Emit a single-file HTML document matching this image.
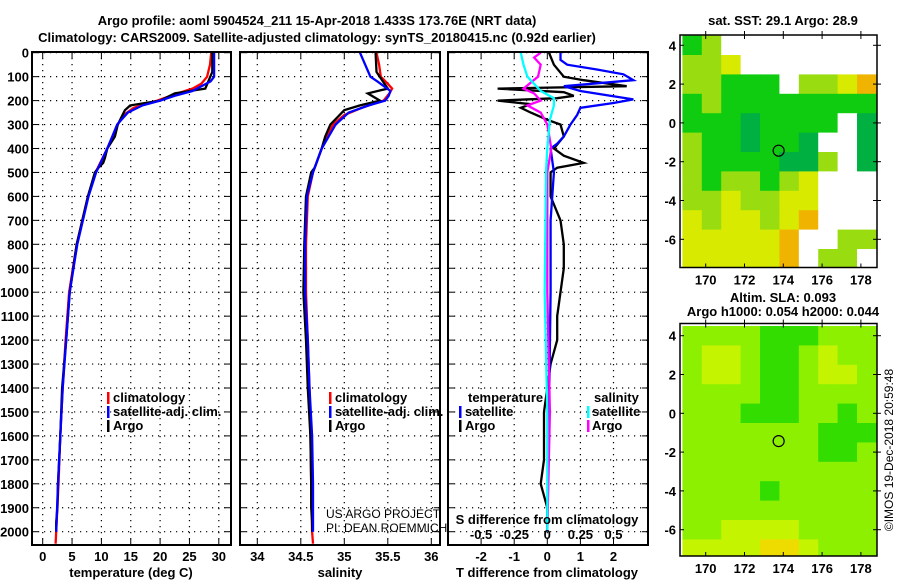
<!DOCTYPE html>
<html><head><meta charset="utf-8">
<style>
html,body{margin:0;padding:0;background:#fff;}
svg{display:block;font-family:"Liberation Sans",sans-serif;}
.b{font-weight:bold;font-size:13px;}
</style></head>
<body>
<svg id="c" width="900" height="580" viewBox="0 0 900 580" xmlns="http://www.w3.org/2000/svg">
<defs>
<clipPath id="clipA"><rect x="680" y="35" width="197" height="232"/></clipPath>
<clipPath id="clipB"><rect x="680" y="323.5" width="197" height="233"/></clipPath>
</defs>
<text class="b" x="317" y="25" text-anchor="middle">Argo profile: aoml 5904524_211 15-Apr-2018 1.433S 173.76E (NRT data)</text>
<text class="b" x="317" y="42" text-anchor="middle">Climatology: CARS2009. Satellite-adjusted climatology: synTS_20180415.nc (0.92d earlier)</text>
<text class="b" x="783" y="25" text-anchor="middle">sat. SST: 29.1 Argo: 28.9</text>
<text class="b" x="783" y="302" text-anchor="middle">Altim. SLA: 0.093</text>
<text class="b" x="783" y="316" text-anchor="middle">Argo h1000: 0.054 h2000: 0.044</text>
<g id="g"></g>
<text x="893" y="450" font-size="12" text-anchor="middle" transform="rotate(-90 893 450)">©IMOS 19-Dec-2018 20:59:48</text>
</svg>
<script>
// ---- data ----
const depthTick=[0,100,200,300,400,500,600,700,800,900,1000,1100,1200,1300,1400,1500,1600,1700,1800,1900,2000];
const tempTicks=[0,5,10,15,20,25,30];
const salTicks=[34,34.5,35,35.5,36];
const salTickLabels=["34","34.5","35","35.5","36"];
const tdTicks=[-2,-1,0,1,2];
const sdTicks=[-0.5,-0.25,0,0.25,0.5];
const sdTickLabels=["-0.5","-0.25","0","0.25","0.5"];

const argoD=[0,80,150,170,200,220,240,300,350,400,440,460,480,500,600,800,1000,1200,1400,1600,1800,1900,1960,2000];
const argoT=[28.9,28.9,27.7,22.5,20,14.9,14,12.8,12.3,11,10.6,10.3,9.5,8.9,7.7,5.8,4.6,4.0,3.3,3.0,2.6,2.5,2.3,2.3];
const argoS=[35.36,35.37,35.50,35.27,35.41,35.18,35.0,34.84,34.78,34.74,34.7,34.68,34.66,34.62,34.56,34.54,34.53,34.56,34.58,34.61,34.62,34.62,34.63,34.63];
const climD=[0,50,100,130,150,170,200,230,260,300,400,500,600,800,1000,1200,1400,1600,1800,2000,2050];
const climT=[28.7,28.5,28,27,25.5,23,19.5,15.5,13.8,12.8,11,9,7.7,5.8,4.5,3.9,3.4,3.0,2.7,2.3,2.2];
const climS=[35.37,35.40,35.42,35.50,35.55,35.52,35.45,35.2,35.0,34.87,34.74,34.64,34.58,34.56,34.56,34.58,34.6,34.61,34.62,34.63,34.64];
const satD=[0,100,120,160,180,200,220,250,300,400,500,600,800,1000,1200,1400,1600,1800,2000];
const satT=[29.2,29.2,28.6,25.5,22.5,20,17,14.5,12.7,11,9.1,7.8,5.9,4.6,4.0,3.4,3.0,2.6,2.3];
const satS=[35.18,35.30,35.38,35.53,35.51,35.47,35.28,35.05,34.9,34.74,34.64,34.57,34.55,34.55,34.58,34.6,34.63,34.64,34.64];

const dArgoTD=[0,50,100,115,140,150,165,180,190,200,215,230,250,280,300,350,400,430,460,480,500,600,700,800,900,1000,1100,1200,1300,1500,1700,1800,1900,2000];
const dArgoT=[0.05,0.2,0.5,1.1,2.4,-1.5,0.5,0.8,0.3,-1.5,-0.5,-0.8,-0.5,0,0.4,0.5,0.2,0.5,1.1,0.3,0.1,0.1,0.4,0.5,0.5,0.4,0.3,0.3,0.1,-0.1,-0.1,-0.2,0,0];
const dSatTD=[0,30,50,70,90,115,140,160,180,195,210,230,260,300,350,380,400,500,700,1000,1500,2000];
const dSatT=[0.4,0.4,0.6,1.5,2.3,2.6,0.5,1.0,1.9,2.6,2.0,1.0,0.9,0.7,0.5,0.3,0.1,0.2,0.1,0.1,0.05,0];
const dSatSD=[0,50,100,130,160,190,220,280,400,500,1000,1500,2000];
const dSatS=[-0.2,-0.18,-0.15,-0.1,-0.05,0.05,0.05,0.02,0,-0.01,-0.02,0,0];
const dArgoSD=[0,20,50,100,150,170,200,220,250,300,400,500,1000,1500,2000];
const dArgoS=[-0.05,-0.1,-0.05,-0.07,-0.18,-0.1,-0.05,-0.15,-0.05,0,0.03,0,0,0.02,0];

const latTicks=[4,2,0,-2,-4,-6];
const lonTicks=[170,172,174,176,178];
const sstGrid=["GLWWWWWWWW","LLYWWWWWWW","LLGGGWLLYO","GLGGGGGGGG","GGGDGGGGWD","LGGDGGDWWD","LGGGGDDLWD","LGLLGLYWWW","LLYLLYYWWW","YLYYLYOWWW","YYYYYOWWLL","YYYYYOWLLW"];
const slaGrid=["MMMMBBBMMM","MYYMBBMYMM","MYYMBBMYYM","MMMMBBMMMM","MMMBBBMMBM","MMMMMMMBBB","MMMMMMMBBM","MMMMMMMMMM","MMMMBMMMMM","MMMMMMMMMM","MMYYYYMMMM","YYYYOOYMMM"];
const argoLon=173.76, argoLat=-1.433;

// ---- drawing ----
const NS="http://www.w3.org/2000/svg";
const G=document.getElementById('g');
function mk(t,a,p){const e=document.createElementNS(NS,t);for(const k in a)e.setAttribute(k,a[k]);(p||G).appendChild(e);return e;}
const yD=d=>52.7+0.2395*d;
const Y0=52, Y1=545;
const xT=t=>42.7+t*5.87;
const xS=s=>257.3+(s-34)*87;
const xTD=t=>547.3+t*33.1;
const xSD=s=>547.3+s*4*33.1;

function frame(x0,x1,name){
  const g=mk('g',{});
  
  
  depthTick.forEach(d=>{mk('line',{x1:x0,x2:x1,y1:yD(d),y2:yD(d),stroke:'#000','stroke-dasharray':'1.2 4.8','stroke-width':1.2},g);
    mk('line',{x1:x0,x2:x0+6,y1:yD(d),y2:yD(d),stroke:'#000','stroke-width':1},g);
    mk('line',{x1:x1-6,x2:x1,y1:yD(d),y2:yD(d),stroke:'#000','stroke-width':1},g);});
  return g;
}
function vgrid(g,xs){xs.forEach(x=>{mk('line',{x1:x,x2:x,y1:Y0,y2:Y1,stroke:'#000','stroke-dasharray':'1.2 4.8','stroke-width':1.2},g);
  mk('line',{x1:x,x2:x,y1:Y1-6,y2:Y1,stroke:'#000'},g);mk('line',{x1:x,x2:x,y1:Y0,y2:Y0+6,stroke:'#000'},g);});}
function box(g,x0,x1){mk('rect',{x:x0,y:Y0,width:x1-x0,height:Y1-Y0,fill:'none',stroke:'#000','stroke-width':2},g);}
function line(g,ds,vs,fx,col,name){
  const pts=ds.map((d,i)=>fx(vs[i]).toFixed(1)+','+yD(d).toFixed(1)).join(' ');
  const p=mk('polyline',{points:pts,fill:'none',stroke:col,'stroke-width':2.3,'stroke-linejoin':'miter'},g);
  
  
}
function txt(g,x,y,s,o){const e=mk('text',Object.assign({x:x,y:y,'class':'b'},o||{}),g);e.textContent=s;return e;}

const yl=mk('g',{});


depthTick.forEach(d=>txt(yl,29,yD(d)+5,String(d),{'text-anchor':'end'}));

const p1=frame(32,231,'temperature-panel');
vgrid(p1,tempTicks.map(xT));
line(p1,climD,climT,xT,'#f00','climatology-temp-line');
line(p1,argoD,argoT,xT,'#000','argo-temp-line');
line(p1,satD,satT,xT,'#00f','satellite-temp-line');
box(p1,32,231);
tempTicks.forEach(t=>txt(p1,xT(t),561,String(t),{'text-anchor':'middle'}));
txt(p1,131,577,'temperature (deg C)',{'text-anchor':'middle'});
function legend(g,x,y){
  [['#f00','climatology'],['#00f','satellite-adj. clim.'],['#000','Argo']].forEach((l,i)=>{
    mk('rect',{x:x,y:y+i*14-10,width:2.5,height:12,fill:l[0]},g);txt(g,x+6,y+i*14,l[1]);});
}
legend(p1,107,402);

const p2=frame(240,440,'salinity-panel');
vgrid(p2,salTicks.map(xS));
line(p2,climD,climS,xS,'#f00','climatology-sal-line');
line(p2,argoD,argoS,xS,'#000','argo-sal-line');
line(p2,satD,satS,xS,'#00f','satellite-sal-line');
box(p2,240,440);
salTicks.forEach((s,i)=>txt(p2,xS(s),561,salTickLabels[i],{'text-anchor':'middle'}));
txt(p2,340,577,'salinity',{'text-anchor':'middle'});
legend(p2,329,402);
txt(p2,326,518,'US ARGO PROJECT',{'class':'','font-size':'12'});
txt(p2,326,532,'PI: DEAN ROEMMICH',{'class':'','font-size':'12'});

const p3=frame(448,648,'difference-panel');
vgrid(p3,tdTicks.map(xTD));
line(p3,dArgoTD,dArgoT,xTD,'#000','argo-temp-diff-line');
line(p3,dSatTD,dSatT,xTD,'#00f','satellite-temp-diff-line');
line(p3,dArgoSD,dArgoS,xSD,'#f0f','argo-sal-diff-line');
line(p3,dSatSD,dSatS,xSD,'#0ff','satellite-sal-diff-line');
box(p3,448,648);
tdTicks.forEach(t=>txt(p3,xTD(t),561,String(t),{'text-anchor':'middle'}));
txt(p3,547,577,'T difference from climatology',{'text-anchor':'middle'});
txt(p3,547,524,'S difference from climatology',{'text-anchor':'middle'});
sdTicks.forEach((s,i)=>txt(p3,xSD(s),539,sdTickLabels[i],{'text-anchor':'middle'}));
txt(p3,468,402,'temperature');
txt(p3,594,402,'salinity');
mk('rect',{x:459,y:406,width:2.5,height:12,fill:'#00f'},p3);txt(p3,465,416,'satellite');
mk('rect',{x:459,y:420,width:2.5,height:12,fill:'#000'},p3);txt(p3,465,430,'Argo');
mk('rect',{x:587,y:406,width:2.5,height:12,fill:'#0ff'},p3);txt(p3,592,416,'satellite');
mk('rect',{x:587,y:420,width:2.5,height:12,fill:'#f0f'},p3);txt(p3,592,430,'Argo');

const sstCol={W:'#fff',G:'#10cc10',D:'#00b040',L:'#99dd10',Y:'#d8ea00',O:'#f0b400',T:'#00a070'};
const slaCol={M:'#8cf000',B:'#33dd00',Y:'#c4f400',O:'#eedc00'};
function map(top,grid,cols,name,latY4,clip){
  const g=mk('g',{});
  
  
  const x0=680,x1=877, bottom=top+232.5;
  const px=19.4;
  const lx=l=>705.7+(l-170)*px;
  const ly=l=>latY4+(4-l)*px;
  const cg=mk('g',{'clip-path':'url(#'+clip+')'},g);
  grid.forEach((row,r)=>{for(let c=0;c<row.length;c++){
    const lo=168.8+c, la=4.5-r;
    const cell=mk('rect',{x:lx(lo),y:ly(la),width:px+0.5,height:px+0.5,fill:cols[row[c]]},cg);
    
    
  }});
  mk('circle',{cx:lx(argoLon),cy:ly(argoLat),r:5.5,fill:'none',stroke:'#000','stroke-width':1.2},g);
  mk('rect',{x:x0,y:top,width:x1-x0,height:bottom-top,fill:'none',stroke:'#000','stroke-width':1.5},g);
  latTicks.forEach(l=>{txt(g,676,ly(l)+5,String(l),{'text-anchor':'end'});
    mk('line',{x1:x0,x2:x0+4,y1:ly(l),y2:ly(l),stroke:'#000'},g);mk('line',{x1:x1-4,x2:x1+4,y1:ly(l),y2:ly(l),stroke:'#000'},g);});
  lonTicks.forEach(l=>{txt(g,lx(l),bottom+17,String(l),{'text-anchor':'middle'});
    mk('line',{x1:lx(l),x2:lx(l),y1:bottom,y2:bottom-4,stroke:'#000'},g);mk('line',{x1:lx(l),x2:lx(l),y1:top-4,y2:top+4,stroke:'#000'},g);});
}
map(35,sstGrid,sstCol,'sst-map',45.3,'clipA');
map(323.5,slaGrid,slaCol,'sla-map',335.7,'clipB');
</script>
</body></html>
